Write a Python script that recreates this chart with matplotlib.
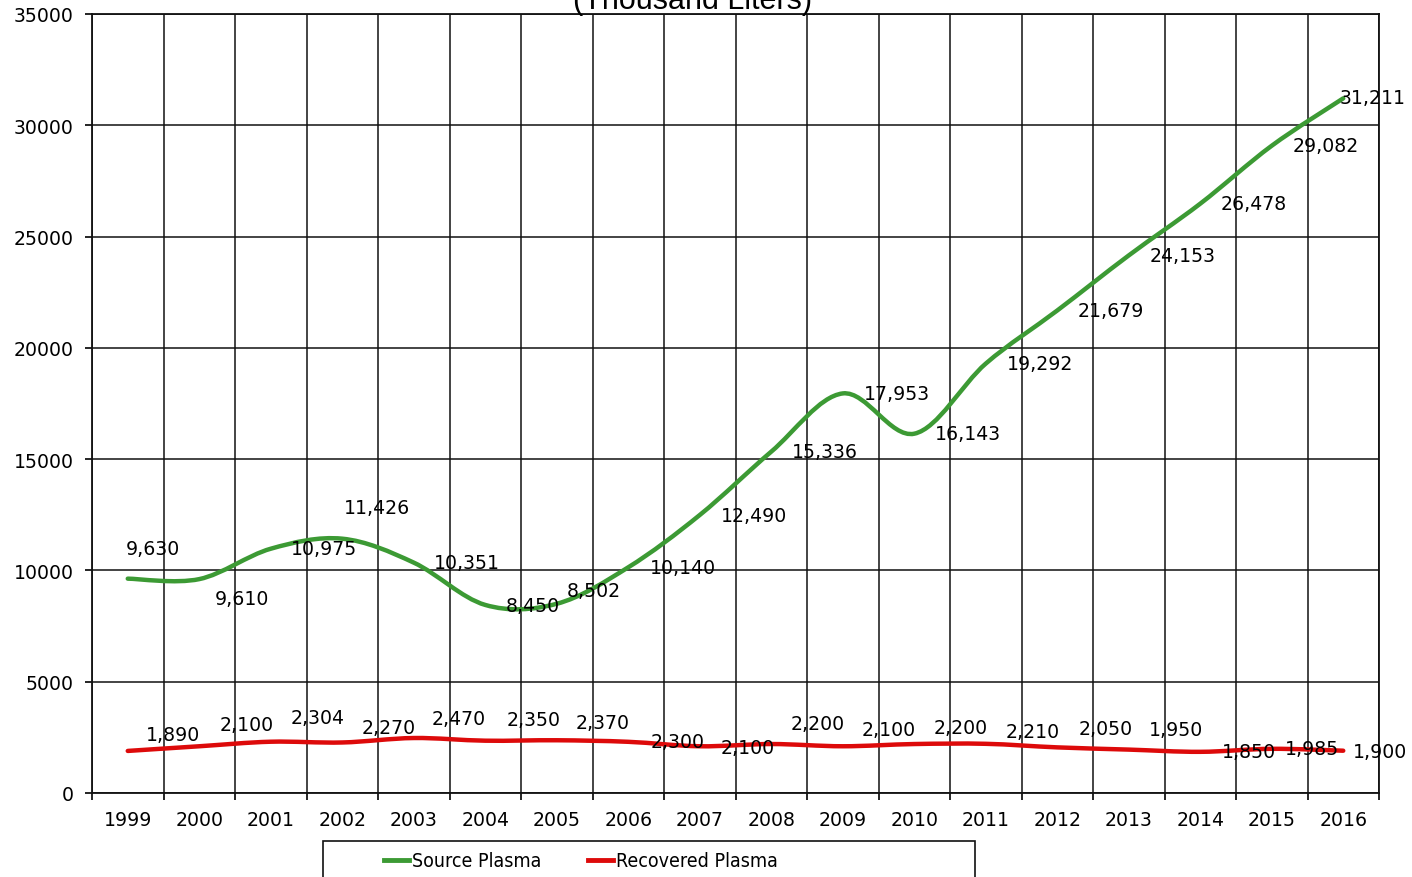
import matplotlib

matplotlib.use("Agg")
from matplotlib import pyplot as plt
from matplotlib import font_manager
from matplotlib.lines import Line2D
from matplotlib.patches import PathPatch, Rectangle
from matplotlib.path import Path
import numpy as np

years = [str(y) for y in range(1999, 2017)]
source_plasma = [9630, 9610, 10975, 11426, 10351, 8450, 8502, 10140, 12490,
                 15336, 17953, 16143, 19292, 21679, 24153, 26478, 29082, 31211]
recovered_plasma = [1890, 2100, 2304, 2270, 2470, 2350, 2370, 2300, 2100,
                    2200, 2100, 2200, 2210, 2050, 1950, 1850, 1985, 1900]

# label offsets in pixels (dx, dy), as placed in the original chart
source_offsets = [(25, 30), (43, -19), (53, 0), (35, 31), (53, 0), (48, -1),
                  (37, 13), (55, 0), (54, 0), (54, 0), (54, 0), (54, 0),
                  (54, 0), (54, 0), (54, 0), (54, 0), (54, 0), (29, 1)]
recovered_offsets = [(45, 16), (47, 22), (47, 24), (46, 15), (45, 20), (48, 21),
                     (46, 18), (49, 0), (48, -1), (46, 21), (46, 17), (46, 17),
                     (47, 12), (48, 19), (47, 20), (49, 0), (40, 0), (37, -1)]

GREEN = "#3c9a34"
RED = "#dd0a0a"
W, H = 1412, 878
FS = 13.6

installed = {f.name for f in font_manager.fontManager.ttflist}
if "Liberation Sans Narrow" in installed:
    legend_font = dict(family="Liberation Sans Narrow", size=17)
else:
    legend_font = dict(family="DejaVu Sans", size=14, stretch="condensed")


def smooth_path(xs, ys):
    # Catmull-Rom style bezier, like spreadsheet "smoothed line"
    pts = np.column_stack([xs, ys]).astype(float)
    n = len(pts)
    verts = [pts[0]]
    codes = [Path.MOVETO]
    for i in range(n - 1):
        p0 = pts[max(i - 1, 0)]
        p1 = pts[i]
        p2 = pts[i + 1]
        p3 = pts[min(i + 2, n - 1)]
        verts += [p1 + (p2 - p0) / 6, p2 - (p3 - p1) / 6, p2]
        codes += [Path.CURVE4] * 3
    return Path(verts, codes)


fig = plt.figure(figsize=(W / 100, H / 100), dpi=100)
ax = fig.add_axes([92 / W, 1 - 794 / H, (1379 - 92) / W, (794 - 15) / H])

x = np.arange(len(years))
for vals, color in [(source_plasma, GREEN), (recovered_plasma, RED)]:
    patch = PathPatch(smooth_path(x, vals), facecolor="none", edgecolor=color,
                      lw=3.2, capstyle="round", zorder=3)
    ax.add_patch(patch)

for vals, offs in [(source_plasma, source_offsets), (recovered_plasma, recovered_offsets)]:
    for xi, v, (dx, dy) in zip(x, vals, offs):
        ax.annotate(f"{v:,}", (xi, v), xytext=(dx, dy), textcoords="offset pixels",
                    ha="center", va="center", fontsize=FS, zorder=4)

ax.set_xlim(-0.5, len(years) - 0.5)
ax.set_ylim(0, 35000)
ax.set_yticks(np.arange(0, 35001, 5000))
ax.set_xticks(x)
ax.set_xticklabels(years)
ax.set_xticks(np.arange(-0.5, len(years), 1), minor=True)
ax.tick_params(axis="x", which="major", length=0, pad=12, labelsize=FS)
ax.tick_params(axis="x", which="minor", length=5, width=1.2, direction="out")
ax.tick_params(axis="y", length=5, width=1.2, pad=8, labelsize=FS)
ax.grid(True, which="minor", axis="x", color="#111111", lw=1.1)
ax.grid(True, which="major", axis="y", color="#111111", lw=1.1)
for s in ax.spines.values():
    s.set_color("#111111")
    s.set_linewidth(1.3)

fig.text(693 / W, 1 - 9 / H, "(Thousand Liters)", ha="center", va="baseline",
         fontsize=22, family="Liberation Sans")

fig.patches.append(Rectangle((323 / W, -0.05), 652 / W, (878 - 842) / H + 0.05,
                             transform=fig.transFigure, fill=False,
                             edgecolor="#111111", lw=1.2))
handles = [Line2D([], [], color=GREEN, lw=3.5), Line2D([], [], color=RED, lw=3.5)]
fig.legend(handles, ["Source Plasma", "Recovered Plasma"], loc="center left",
           bbox_to_anchor=(366 / W, 1 - 862 / H), frameon=False, ncol=2,
           handlelength=1.3, handletextpad=0.15, columnspacing=2.4,
           prop=legend_font)

fig.savefig("out.png", dpi=100)
plt.close(fig)
